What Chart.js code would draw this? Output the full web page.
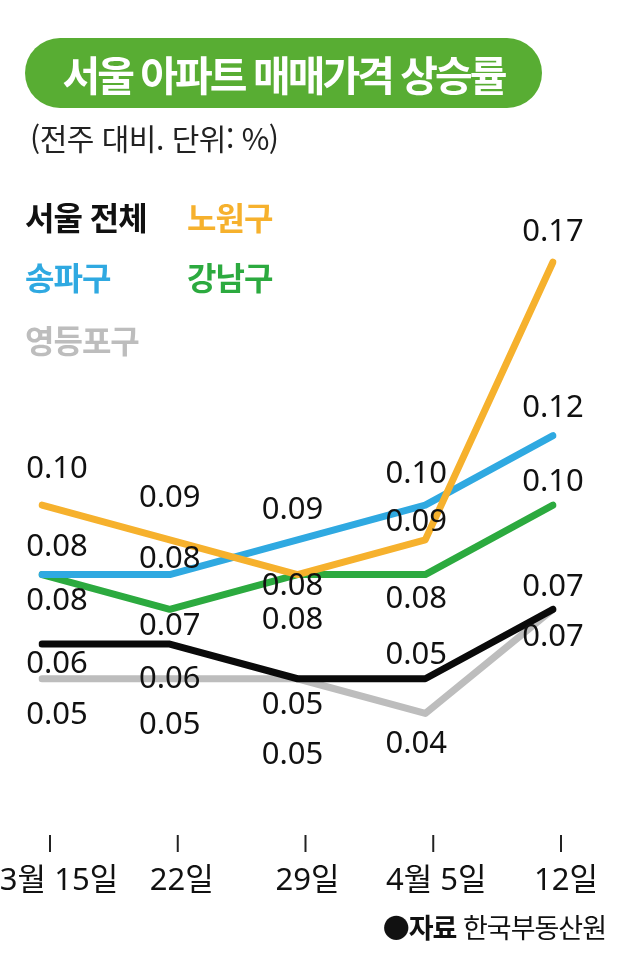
<!DOCTYPE html>
<html lang="ko">
<head>
<meta charset="UTF-8">
<title>서울 아파트 매매가격 상승률</title>
<script src="https://cdn.jsdelivr.net/npm/chart.js"></script>
<style>
    body {
        margin: 0;
        background: #fff;
        font-family: "Noto Sans CJK KR", "Noto Sans", sans-serif;
    }
    .page {
        position: relative;
        width: 640px;
        height: 974px;
        overflow: hidden;
    }
    .title {
        position: absolute;
        left: 25px;
        top: 38px;
        width: 517px;
        height: 70px;
        border-radius: 35px;
        background: #58ad33;
        color: #fff;
        font-weight: 700;
        font-size: 41px;
        letter-spacing: -3px;
        line-height: 70px;
        text-align: center;
    }
    .sub {
        position: absolute;
        left: 30px;
        top: 117px;
        font-size: 30px;
        line-height: 40px;
        color: #222;
        letter-spacing: -0.5px;
    }
    .leg {
        position: absolute;
        font-size: 32px;
        font-weight: 700;
        line-height: 40px;
        letter-spacing: -1px;
    }
    .src {
        position: absolute;
        right: 34px;
        top: 909px;
        font-size: 27px;
        line-height: 36px;
        color: #111;
        letter-spacing: -1px;
    }
    .src b { font-weight: 700; }
    #wrap {
        position: absolute;
        left: 0;
        top: 0;
        width: 640px;
        height: 974px;
    }
</style>
</head>
<body>
<div class="page">
    <div id="wrap"><canvas id="chart"></canvas></div>
    <div class="title">서울 아파트 매매가격 상승률</div>
    <div class="sub">(전주 대비. 단위: %)</div>
    <div class="leg" style="left:25px; top:196px; color:#111">서울 전체</div>
    <div class="leg" style="left:187px; top:196px; color:#f6b12d">노원구</div>
    <div class="leg" style="left:25px; top:256px; color:#2fa9e1">송파구</div>
    <div class="leg" style="left:187px; top:256px; color:#2caa3f">강남구</div>
    <div class="leg" style="left:25px; top:319px; color:#bdbdbd">영등포구</div>
    <div class="src"><b>●자료</b> 한국부동산원</div>
</div>
<script>
const weeks = ['3월 15일', '22일', '29일', '4월 5일', '12일'];
const seoul = [0.06, 0.06, 0.05, 0.05, 0.07];
const nowon = [0.10, 0.09, 0.08, 0.09, 0.17];
const songpa = [0.08, 0.08, 0.09, 0.10, 0.12];
const gangnam = [0.08, 0.07, 0.08, 0.08, 0.10];
const yeongdeungpo = [0.05, 0.05, 0.05, 0.04, 0.07];

// label placement (pixels, relative to each point)
const labelDx = [15, 0, -5, -9, 0];
const tickLabelDx = [17, 12, 10, 11, 13];

function line(label, data, color, order, dy) {
    return {
        label: label,
        data: data,
        borderColor: color,
        backgroundColor: color,
        borderWidth: 7,
        borderCapStyle: 'round',
        borderJoinStyle: 'round',
        pointRadius: 0,
        tension: 0,
        order: order,
        labelDy: dy
    };
}

const valueLabels = {
    id: 'valueLabels',
    afterDatasetsDraw(chart) {
        const ctx = chart.ctx;
        const area = chart.chartArea;
        const xs = chart.scales.x;
        ctx.save();
        ctx.font = '400 31px "Noto Sans"';
        ctx.fillStyle = '#111';
        ctx.textAlign = 'center';
        ctx.textBaseline = 'middle';
        chart.data.datasets.forEach(function(ds, i) {
            chart.getDatasetMeta(i).data.forEach(function(pt, j) {
                ctx.fillText(ds.data[j].toFixed(2), pt.x + labelDx[j], pt.y + ds.labelDy[j]);
            });
        });

        // x axis ticks
        ctx.strokeStyle = '#222';
        ctx.lineWidth = 2;
        ctx.font = '31px "Noto Sans", "Noto Sans CJK KR"';
        weeks.forEach(function(w, j) {
            const x = xs.getPixelForValue(j);
            ctx.beginPath();
            ctx.moveTo(x + 8, area.bottom);
            ctx.lineTo(x + 8, area.bottom + 17);
            ctx.stroke();
            ctx.fillText(w, x + tickLabelDx[j], area.bottom + 46);
        });
        ctx.restore();
    }
};

new Chart(document.getElementById('chart'), {
    type: 'line',
    data: {
        labels: weeks,
        datasets: [
            line('노원구', nowon, '#f6b12d', 1, [-36, -42, 12, -18, -30]),
            line('서울 전체', seoul, '#0a0a0a', 2, [20, 35, 26, -24, -22]),
            line('송파구', songpa, '#2fa9e1', 3, [-27, -15, -30, -31, -28]),
            line('강남구', gangnam, '#2caa3f', 4, [27, 17, 46, 25, -23]),
            line('영등포구', yeongdeungpo, '#bdbdbd', 5, [36, 46, 76, 31, 28])
        ]
    },
    options: {
        responsive: true,
        maintainAspectRatio: false,
        animation: false,
        layout: { padding: { left: 42, right: 87, top: 210, bottom: 139 } },
        scales: {
            x: { display: false },
            y: { display: false, min: 0.005, max: 0.185 }
        },
        plugins: {
            legend: { display: false },
            tooltip: { enabled: false }
        }
    },
    plugins: [valueLabels]
});
</script>
</body>
</html>
